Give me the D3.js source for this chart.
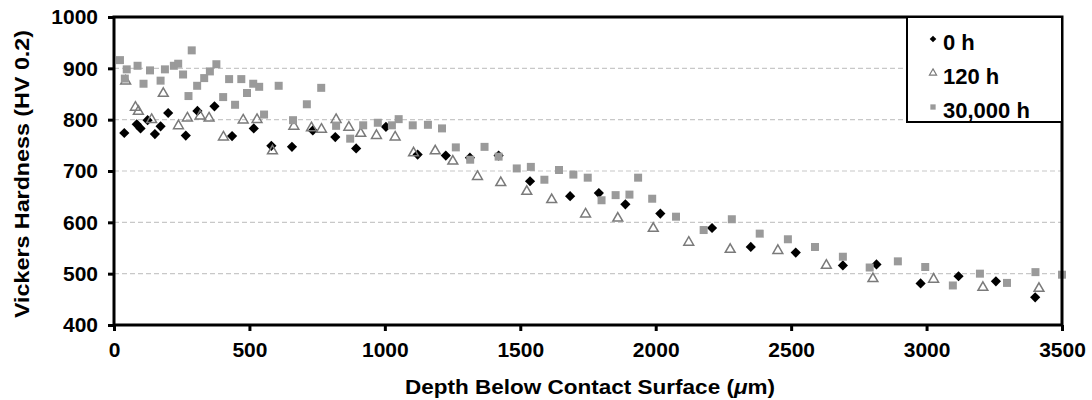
<!DOCTYPE html>
<html>
<head>
<meta charset="utf-8">
<script src="https://cdn.jsdelivr.net/npm/d3@7"></script>
<style>
  body { margin: 0; background: #fff; }
  text { font-family: "Liberation Sans", Arial, sans-serif; font-weight: bold; fill: #000; }
</style>
</head>
<body>
<svg id="chart" width="1092" height="400"></svg>
<script>
// depth (um) and hardness (HV 0.2)
const depth0h = [38, 84, 98, 124, 151, 172, 200, 265, 308, 371, 436, 516, 581, 657, 734, 817, 894, 1004, 1121, 1225, 1314, 1420, 1536, 1684, 1790, 1888, 2017, 2208, 2351, 2517, 2691, 2815, 2978, 3118, 3256, 3401];
const hv0h = [774, 791, 783, 799, 772, 787, 813, 769, 817, 826, 768, 783, 749, 747, 779, 766, 744, 786, 732, 730, 726, 730, 680, 651, 657, 635, 617, 589, 552, 541, 516, 518, 481, 495, 485, 454];

const depth120h = [43, 79, 90, 139, 182, 238, 271, 318, 351, 404, 477, 528, 585, 664, 729, 766, 820, 867, 911, 969, 1038, 1106, 1186, 1251, 1342, 1428, 1524, 1616, 1741, 1860, 1991, 2122, 2275, 2451, 2630, 2802, 3026, 3208, 3415];
const hv120h = [877, 826, 818, 802, 853, 790, 805, 809, 805, 768, 801, 802, 741, 789, 786, 783, 802, 787, 775, 771, 768, 737, 741, 721, 691, 679, 662, 646, 618, 610, 590, 563, 549, 547, 518, 492, 491, 475, 473];

const depth30000h = [22, 40, 47, 87, 109, 133, 172, 188, 221, 237, 255, 275, 287, 307, 333, 354, 378, 403, 425, 447, 470, 491, 514, 536, 554, 608, 661, 712, 765, 820, 872, 920, 974, 1026, 1051, 1103, 1159, 1211, 1262, 1315, 1368, 1420, 1487, 1539, 1589, 1643, 1696, 1749, 1800, 1852, 1903, 1935, 1987, 2075, 2177, 2281, 2384, 2488, 2588, 2691, 2790, 2894, 2995, 3097, 3197, 3297, 3402, 3500];
const hv30000h = [916, 880, 898, 905, 870, 896, 876, 898, 905, 909, 888, 846, 935, 866, 881, 894, 908, 844, 879, 829, 879, 852, 870, 864, 810, 866, 799, 830, 862, 788, 763, 789, 794, 789, 801, 789, 790, 783, 746, 722, 747, 728, 705, 708, 683, 702, 693, 687, 643, 653, 654, 687, 646, 611, 585, 606, 578, 567, 552, 533, 512, 524, 513, 477, 500, 482, 503, 498];

const seriesNames = ['0 h', '120 h', '30,000 h'];
const xTicks = [0, 500, 1000, 1500, 2000, 2500, 3000, 3500];
const yTicks = [400, 500, 600, 700, 800, 900, 1000];

const svg = d3.select('#chart');

const x = d3.scaleLinear().domain([0, 3500]).range([114, 1062]);
const y = d3.scaleLinear().domain([400, 1000]).range([325, 17]);

// dashed grid
svg.append('g')
  .selectAll('line')
  .data(yTicks.filter((v) => v > 400 && v < 1000))
  .enter()
  .append('line')
  .attr('x1', x(0))
  .attr('x2', x(3500))
  .attr('y1', (d) => y(d))
  .attr('y2', (d) => y(d))
  .attr('stroke', '#c8c8c8')
  .attr('stroke-width', 1.2)
  .attr('stroke-dasharray', '5,3');

const zip = (xs, ys) => xs.map((d, i) => ({ depth: d, hv: ys[i] }));

const diamond = d3.symbol().type(d3.symbolSquare).size(52);
const triangle = d3.symbol().type(d3.symbolTriangle).size(42);
const square = d3.symbol().type(d3.symbolSquare).size(64);

const plot = svg.append('g');

plot.selectAll('.d0')
  .data(zip(depth0h, hv0h))
  .enter()
  .append('path')
  .attr('d', diamond)
  .attr('transform', (d) => `translate(${x(d.depth)},${y(d.hv)}) rotate(45)`)
  .attr('fill', '#000');

plot.selectAll('.d120')
  .data(zip(depth120h, hv120h))
  .enter()
  .append('path')
  .attr('d', triangle)
  .attr('transform', (d) => `translate(${x(d.depth)},${y(d.hv) + 1})`)
  .attr('fill', 'none')
  .attr('stroke', '#7a7a7a')
  .attr('stroke-width', 1.5);

plot.selectAll('.d30000')
  .data(zip(depth30000h, hv30000h))
  .enter()
  .append('path')
  .attr('d', square)
  .attr('transform', (d) => `translate(${x(d.depth)},${y(d.hv)})`)
  .attr('fill', '#9a9a9a');

// axes
const yAxis = d3.axisLeft(y).tickValues(yTicks).tickFormat(d3.format('d')).tickSize(6).tickPadding(10);
const xAxis = d3.axisBottom(x).tickValues(xTicks).tickFormat(d3.format('d')).tickSize(6).tickPadding(11);

const gy = svg.append('g').attr('transform', `translate(${x(0)},0)`).call(yAxis);
const gx = svg.append('g').attr('transform', `translate(0,${y(400)})`).call(xAxis);

[gy, gx].forEach((g) => {
  g.select('.domain').remove();
  g.selectAll('.tick line').attr('stroke', '#000').attr('stroke-width', 3);
  g.selectAll('.tick text')
    .attr('font-size', 21)
    .attr('font-family', '"Liberation Sans", Arial, sans-serif')
    .attr('font-weight', 'bold');
});

// frame
svg.append('rect')
  .attr('x', x(0))
  .attr('y', y(1000))
  .attr('width', x(3500) - x(0))
  .attr('height', y(400) - y(1000))
  .attr('fill', 'none')
  .attr('stroke', '#000')
  .attr('stroke-width', 3);

// titles
const xTitle = svg.append('text')
  .attr('x', 590)
  .attr('y', 394)
  .attr('text-anchor', 'middle')
  .attr('font-size', 20)
  .attr('textLength', 370)
  .attr('lengthAdjust', 'spacingAndGlyphs');
xTitle.append('tspan').text('Depth Below Contact Surface (');
xTitle.append('tspan').attr('font-style', 'italic').text('μ');
xTitle.append('tspan').text('m)');

svg.append('text')
  .attr('transform', 'translate(29,174) rotate(-90)')
  .attr('text-anchor', 'middle')
  .attr('font-size', 20)
  .attr('textLength', 288)
  .attr('lengthAdjust', 'spacingAndGlyphs')
  .text('Vickers Hardness (HV 0.2)');

// legend
const legend = svg.append('g');
legend.append('rect')
  .attr('x', 907)
  .attr('y', y(1000))
  .attr('width', x(3500) - 907)
  .attr('height', 105)
  .attr('fill', '#fff')
  .attr('stroke', '#000')
  .attr('stroke-width', 2);

const legendMarks = [
  d3.symbol().type(d3.symbolSquare).size(22),
  d3.symbol().type(d3.symbolTriangle).size(22),
  d3.symbol().type(d3.symbolSquare).size(28),
];

legend.selectAll('g.item')
  .data(seriesNames)
  .enter()
  .append('g')
  .attr('transform', (d, i) => `translate(933,${42 + i * 34})`)
  .each(function (d, i) {
    const g = d3.select(this);
    const m = g.append('path').attr('d', legendMarks[i]);
    if (i === 0) m.attr('transform', 'translate(0,-3) rotate(45)').attr('fill', '#000');
    if (i === 1) m.attr('transform', 'translate(0,-3)').attr('fill', 'none').attr('stroke', '#7a7a7a').attr('stroke-width', 1.2);
    if (i === 2) m.attr('transform', 'translate(0,-3)').attr('fill', '#9a9a9a');
    g.append('text')
      .attr('x', 10)
      .attr('y', 8)
      .attr('font-size', 22)
      .text(d);
  });
</script>
</body>
</html>
